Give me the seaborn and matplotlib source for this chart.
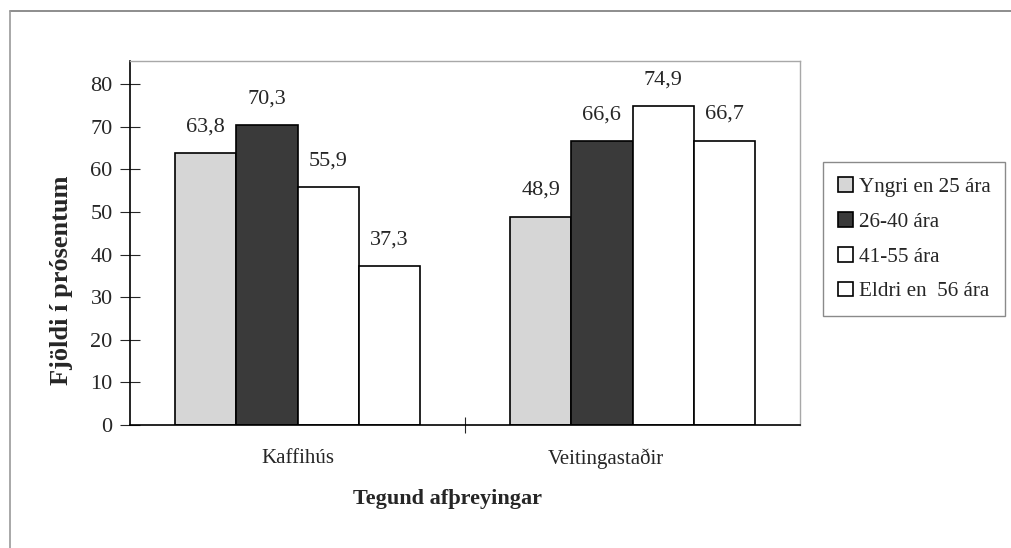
import numpy as np
import pandas as pd
import matplotlib as mpl
mpl.use('Agg')
import matplotlib.pyplot as plt
import matplotlib.transforms as mtransforms
import seaborn as sns
from matplotlib.patches import Patch
from matplotlib.lines import Line2D
from matplotlib.ticker import FixedLocator

# ----- data -----
categories = ['Kaffihús', 'Veitingastaðir']
age_groups = ['Yngri en 25 ára', '26-40 ára', '41-55 ára', 'Eldri en  56 ára']
kaffihus = [63.8, 70.3, 55.9, 37.3]
veitingastadir = [48.9, 66.6, 74.9, 66.7]
y_ticks = [0, 10, 20, 30, 40, 50, 60, 70, 80]

bar_colors = ['#d6d6d6', '#3a3a3a', '#ffffff', '#ffffff']

df = pd.DataFrame({
    'Tegund': np.repeat(categories, len(age_groups)),
    'Aldur': age_groups * len(categories),
    'Hlutfall': kaffihus + veitingastadir,
})

sns.set_style('white')
plt.rcParams['font.family'] = ['Liberation Serif', 'DejaVu Serif']

fig = plt.figure(figsize=(10.11, 5.48), dpi=100)
ax = fig.add_axes([130 / 1011, 1 - 425 / 548, 670 / 1011, 364 / 548])

sns.barplot(data=df, x='Tegund', y='Hlutfall', hue='Aldur', hue_order=age_groups,
            order=categories, palette=bar_colors, width=0.73, edgecolor='black',
            linewidth=1.2, saturation=1, legend=False, ax=ax)

# value labels with decimal comma
for cont, grp in zip(ax.containers, age_groups):
    vals = df.loc[df['Aldur'] == grp, 'Hlutfall'].tolist()
    ax.bar_label(cont, labels=[f'{v:.1f}'.replace('.', ',') for v in vals],
                 padding=12, fontsize=16)

ax.set_ylim(0, 85.4)
ax.set_xlim(-0.5, 1.5)
ax.set_yticks(y_ticks)
ax.tick_params(axis='y', left=True, direction='inout', length=15, width=0.8,
               pad=5, labelsize=16)
ax.tick_params(axis='x', which='major', length=0, pad=17, labelsize=15)
ax.xaxis.set_minor_locator(FixedLocator([0.5]))
ax.tick_params(axis='x', which='minor', direction='inout', length=12, width=0.8, bottom=True)

# second category label sits a little left of its group in the scan
shift = mtransforms.ScaledTranslation(-27 / 100, 0, fig.dpi_scale_trans)
lbl = ax.get_xticklabels()[1]
lbl.set_transform(lbl.get_transform() + shift)

for side in ['left', 'bottom']:
    ax.spines[side].set_color('black')
    ax.spines[side].set_linewidth(1.2)
for side in ['top', 'right']:
    ax.spines[side].set_color('#a8a8a8')
    ax.spines[side].set_linewidth(1.0)

ax.set_ylabel('Fjöldi í prósentum', fontsize=19, fontweight='bold')
ax.yaxis.set_label_coords(-0.085, 0.398)
ax.set_xlabel('Tegund afþreyingar', fontsize=16, fontweight='bold')
ax.xaxis.set_label_coords(0.4746, -0.175)

handles = [Patch(facecolor=c, edgecolor='black', linewidth=1.2) for c in bar_colors]
leg = fig.legend(handles, age_groups, loc='upper left',
                 bbox_to_anchor=(823 / 1011, 1 - 162 / 548), bbox_transform=fig.transFigure,
                 borderaxespad=0, fontsize=15.2, frameon=True, fancybox=False,
                 framealpha=1, edgecolor='#8a8a8a', handlelength=0.7, handleheight=0.7,
                 handletextpad=0.3, labelspacing=0.72, borderpad=0.7)
leg.get_frame().set_linewidth(1.0)

# outer chart frame (top and left edges visible in the scan)
fig.add_artist(Line2D([10 / 1011, 1.0], [1 - 11 / 548, 1 - 11 / 548],
                      transform=fig.transFigure, color='#7a7a7a', linewidth=1.2))
fig.add_artist(Line2D([10 / 1011, 10 / 1011], [0.0, 1 - 11 / 548],
                      transform=fig.transFigure, color='#9a9a9a', linewidth=1.2))

fig.savefig('out.png', dpi=100)
